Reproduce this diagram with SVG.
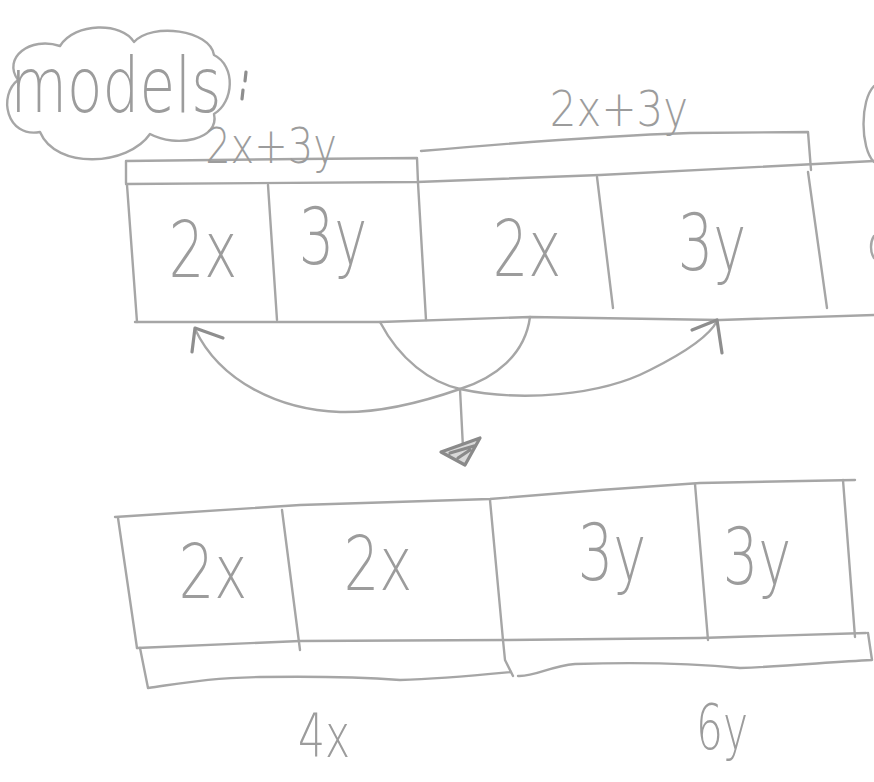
<svg xmlns="http://www.w3.org/2000/svg" width="874" height="782" viewBox="0 0 874 782">
  <style>
    .ln { fill: none; stroke: #a6a6a6; stroke-width: 2.4; stroke-linecap: round; stroke-linejoin: round; }
    .dk { fill: none; stroke: #8e8e8e; stroke-width: 3.2; stroke-linecap: round; stroke-linejoin: round; }
    .hw { font-family: "DejaVu Sans", "Liberation Sans", sans-serif; font-weight: 200; fill: #9c9c9c; text-anchor: middle; }
    .big { font-size: 62px; }
    .mid { font-size: 50px; }
    .sm { font-size: 40px; }
  </style>
  <rect width="874" height="782" fill="#ffffff"/>

  <!-- heading in a cloud -->
  <g id="title">
    <path class="ln" d="M40,132 C6,138 -2,95 18,80 C2,58 30,36 60,46 C75,22 122,22 134,42 C152,22 210,30 214,55 C236,66 234,102 214,114 C220,140 176,148 150,134 C128,166 56,170 40,132 Z"/>
    <text class="hw" transform="translate(116,112) scale(1,1.32)" style="font-size:58px">models</text>
    <path class="dk" d="M246,72 L245,81 M243,90 L242,99"/>
  </g>

  <!-- partial marks at the right edge -->
  <g id="edge-marks">
    <path class="ln" d="M874,86 C860,100 860,148 874,162"/>
    <path class="ln" d="M874,236 C870,242 870,252 874,258"/>
  </g>

  <!-- upper bar: 2x + 3y + 2x + 3y -->
  <g id="bracket-top-left">
    <path class="ln" d="M126,183 L126,161 L300,159 L417,158 L418,183"/>
    <text class="hw sm" transform="translate(271,163) scale(1.0,1.25)">2x+3y</text>
  </g>
  <g id="bracket-top-right">
    <path class="ln" d="M421,151 C500,144 600,136 690,133 L808,132 L811,170"/>
    <text class="hw sm" transform="translate(619,126) scale(1.05,1.25)">2x+3y</text>
  </g>
  <g id="bar-top">
    <path class="ln" d="M126,184 L417,182 L600,175 L874,161"/>
    <path class="ln" d="M135,322 L380,322 L530,317 L720,320 L874,315"/>
    <path class="ln" d="M127,185 L137,322"/>
    <path class="ln" d="M268,185 L277,320"/>
    <path class="ln" d="M418,183 L426,320"/>
    <path class="ln" d="M597,177 L613,308"/>
    <path class="ln" d="M808,172 L827,308"/>
  </g>
  <g id="cell-t1"><text class="hw big" transform="translate(203,277) scale(0.9,1.25)">2x</text></g>
  <g id="cell-t2"><text class="hw big" transform="translate(333,264) scale(0.9,1.25)">3y</text></g>
  <g id="cell-t3"><text class="hw big" transform="translate(527,276) scale(0.9,1.25)">2x</text></g>
  <g id="cell-t4"><text class="hw big" transform="translate(712,270) scale(0.9,1.25)">3y</text></g>

  <!-- rearranging arrows -->
  <g id="connectors">
    <path class="ln" d="M380,322 C400,360 430,382 460,389 C520,402 600,396 650,370 C690,350 710,335 717,321"/>
    <path class="ln" d="M530,317 C525,355 495,378 460,389 C420,403 380,413 340,412 C280,410 220,382 195,329"/>
    <path class="ln" d="M460,389 L463,448"/>
    <path class="dk" d="M192,352 L195,328 L223,338"/>
    <path class="dk" d="M692,330 L717,320 L722,353"/>
    <path d="M441,452 L480,438 L465,465 Z M450,453 L474,446 M458,458 L470,450" fill="#d9d9d9" stroke="#8a8a8a" stroke-width="3.2" stroke-linejoin="round" stroke-linecap="round"/>
  </g>

  <!-- lower bar: 2x + 2x + 3y + 3y -->
  <g id="bar-bottom">
    <path class="ln" d="M115,517 L300,505 L490,499 L600,490 L700,483 L855,480"/>
    <path class="ln" d="M137,648 L300,641 L505,640 L700,638 L866,633"/>
    <path class="ln" d="M118,518 L137,648"/>
    <path class="ln" d="M282,510 L300,650"/>
    <path class="ln" d="M490,500 L503,640 L505,660 L513,676"/>
    <path class="ln" d="M695,484 L708,640"/>
    <path class="ln" d="M843,480 L855,637"/>
  </g>
  <g id="bracket-bottom-left">
    <path class="ln" d="M140,648 L148,688 C190,682 210,678 260,677 C320,676 360,677 400,680 C440,679 480,675 511,672"/>
    <text class="hw mid" transform="translate(324,757) scale(0.85,1.2)">4x</text>
  </g>
  <g id="bracket-bottom-right">
    <path class="ln" d="M518,676 C535,677 550,666 575,664 C640,662 690,663 740,668 C790,666 830,662 872,660 L868,633"/>
    <text class="hw mid" transform="translate(722,749) scale(0.85,1.25)">6y</text>
  </g>
  <g id="cell-b1"><text class="hw big" transform="translate(213,598) scale(0.9,1.2)">2x</text></g>
  <g id="cell-b2"><text class="hw big" transform="translate(378,590) scale(0.9,1.2)">2x</text></g>
  <g id="cell-b3"><text class="hw big" transform="translate(612,580) scale(0.9,1.25)">3y</text></g>
  <g id="cell-b4"><text class="hw big" transform="translate(757,584) scale(0.9,1.25)">3y</text></g>
</svg>
